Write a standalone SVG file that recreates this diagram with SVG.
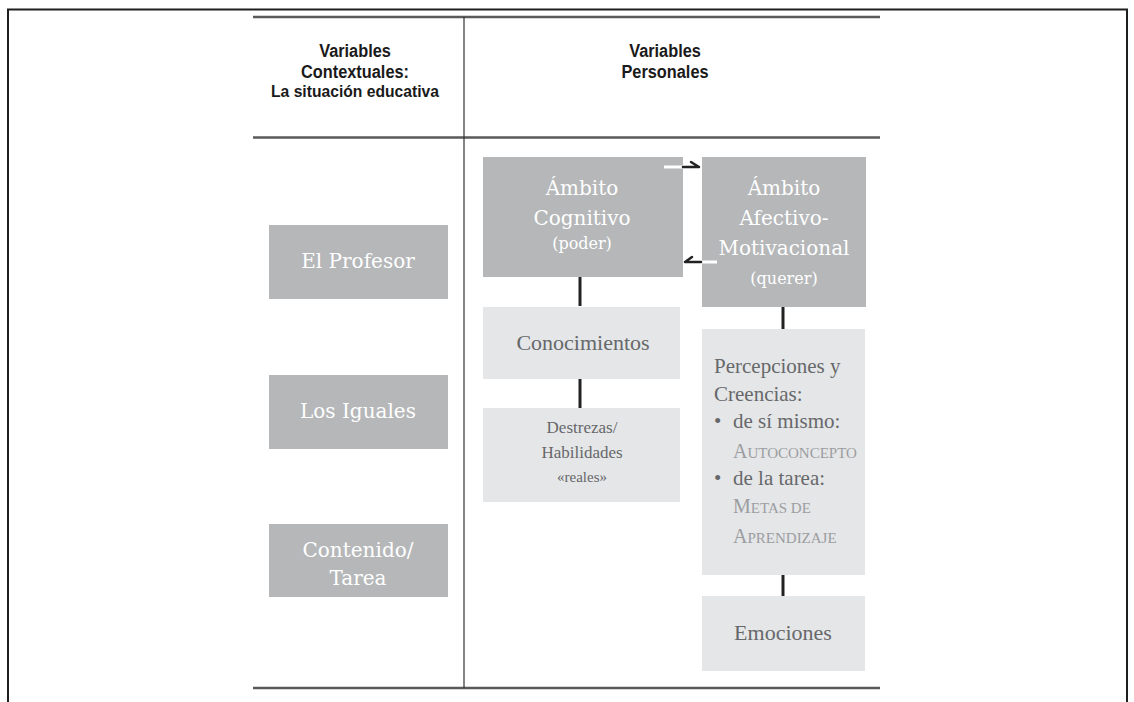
<svg xmlns="http://www.w3.org/2000/svg" width="1134" height="702" viewBox="0 0 1134 702">
<style>
.frame{fill:none;stroke:#1e1e1e;stroke-width:2}
.rule{stroke:#5a5a5a;stroke-width:2.5}
.vrule{stroke:#333;stroke-width:1.2}
.hd{font-family:"Liberation Sans","Arial",sans-serif;font-weight:bold;fill:#1a1a1a;text-anchor:middle}
.dark{fill:#b5b7b9}
.light{fill:#e4e6e8}
.wt{font-family:"DejaVu Serif","Liberation Serif",serif;fill:#ffffff;text-anchor:middle;font-size:20px}
.wts{font-size:16px}
.gt{font-family:"Liberation Serif","DejaVu Serif",serif;fill:#67686a}
.sc{fill:#9c9da0;font-size:15px}
.conn{stroke:#222;stroke-width:3;fill:none}
.wl{stroke:#ffffff;stroke-width:3}
.arr{stroke:#222;stroke-width:2.5;fill:none;stroke-linecap:round;stroke-linejoin:round}
</style>
<rect width="1134" height="702" fill="#ffffff"/>
<path class="frame" d="M8,704 V9.5 H1127 V704"/>
<g id="table">
<line class="rule" x1="253" y1="17" x2="880" y2="17"/>
<line class="rule" x1="253" y1="137.5" x2="880" y2="137.5"/>
<line class="rule" x1="253" y1="688" x2="880" y2="688"/>
<line class="vrule" x1="464" y1="17" x2="464" y2="688"/>
</g>
<g id="header-contextuales">
<text class="hd" transform="translate(355,57) scale(0.86,1)" font-size="19">Variables</text>
<text class="hd" transform="translate(355,78) scale(0.86,1)" font-size="19">Contextuales:</text>
<text class="hd" transform="translate(355,97) scale(0.95,1)" font-size="16.5">La situación educativa</text>
</g>
<g id="header-personales">
<text class="hd" transform="translate(665,57) scale(0.86,1)" font-size="19">Variables</text>
<text class="hd" transform="translate(665,78) scale(0.86,1)" font-size="19">Personales</text>
</g>
<g id="el-profesor">
<rect class="dark" x="269" y="225" width="179" height="74"/>
<text class="wt" x="358" y="268">El Profesor</text>
</g>
<g id="los-iguales">
<rect class="dark" x="269" y="375" width="179" height="74"/>
<text class="wt" x="358" y="418">Los Iguales</text>
</g>
<g id="contenido-tarea">
<rect class="dark" x="269" y="524" width="179" height="73"/>
<text class="wt" x="358" y="557">Contenido/</text>
<text class="wt" x="358" y="585">Tarea</text>
</g>
<g id="ambito-cognitivo">
<rect class="dark" x="483" y="157" width="200" height="120"/>
<text class="wt" x="582" y="195">Ámbito</text>
<text class="wt" x="582" y="225">Cognitivo</text>
<text class="wt wts" x="582" y="249">(poder)</text>
</g>
<g id="ambito-afectivo">
<rect class="dark" x="702" y="157" width="164" height="150"/>
<text class="wt" x="784" y="195">Ámbito</text>
<text class="wt" x="784" y="225">Afectivo-</text>
<text class="wt" x="784" y="255" font-size="19">Motivacional</text>
<text class="wt wts" x="784" y="284">(querer)</text>
</g>
<g id="conocimientos">
<rect class="light" x="483" y="307" width="197" height="72"/>
<text class="gt" x="583" y="350" font-size="22" text-anchor="middle">Conocimientos</text>
</g>
<g id="destrezas">
<rect class="light" x="483" y="408" width="197" height="94"/>
<text class="gt" x="582" y="433" font-size="17" text-anchor="middle">Destrezas/</text>
<text class="gt" x="582" y="458" font-size="17" text-anchor="middle">Habilidades</text>
<text class="gt" x="582" y="482" font-size="15" text-anchor="middle">«reales»</text>
</g>
<g id="percepciones">
<rect class="light" x="702" y="329" width="163" height="246"/>
<text class="gt" x="714" y="373" font-size="21">Percepciones y</text>
<text class="gt" x="714" y="401" font-size="21">Creencias:</text>
<text class="gt" x="714" y="428" font-size="21">•</text>
<text class="gt" x="733" y="428" font-size="21">de sí mismo:</text>
<text class="gt sc" x="733" y="458"><tspan font-size="20">A</tspan>UTOCONCEPTO</text>
<text class="gt" x="714" y="485" font-size="21">•</text>
<text class="gt" x="733" y="485" font-size="21">de la tarea:</text>
<text class="gt sc" x="733" y="513"><tspan font-size="20">M</tspan>ETAS DE</text>
<text class="gt sc" x="733" y="543"><tspan font-size="20">A</tspan>PRENDIZAJE</text>
</g>
<g id="emociones">
<rect class="light" x="702" y="596" width="163" height="75"/>
<text class="gt" x="783" y="640" font-size="22" text-anchor="middle">Emociones</text>
</g>
<g id="connectors">
<line class="conn" x1="580" y1="277" x2="580" y2="306"/>
<line class="conn" x1="580" y1="379" x2="580" y2="408"/>
<line class="conn" x1="783" y1="307" x2="783" y2="329"/>
<line class="conn" x1="783" y1="575" x2="783" y2="596"/>
<line class="wl" x1="664" y1="167" x2="683" y2="167"/>
<path class="arr" d="M683,167 H699 L691,162"/>
<line class="wl" x1="702" y1="262" x2="717" y2="262"/>
<path class="arr" d="M701,262 H685 L692,257"/>
</g>
</svg>
